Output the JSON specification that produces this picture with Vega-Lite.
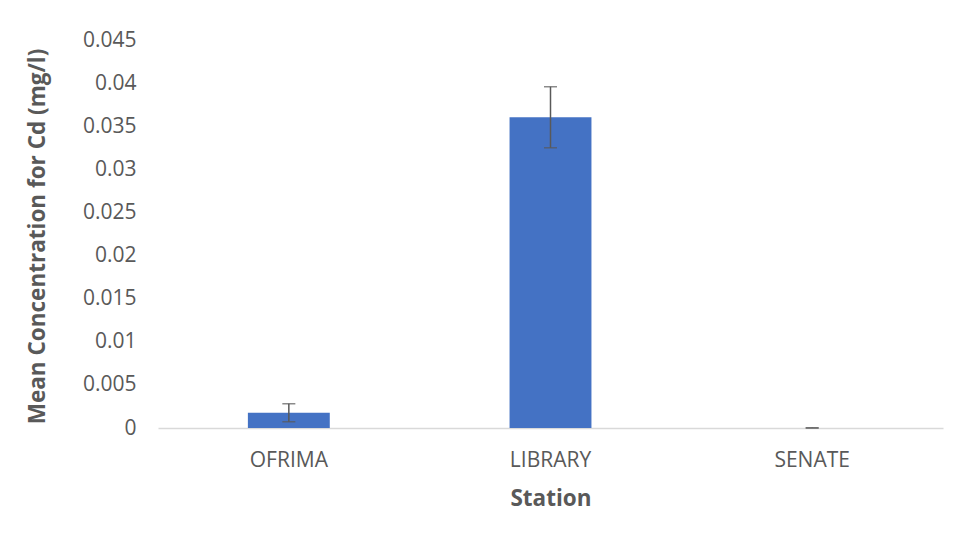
{
  "$schema": "https://vega.github.io/schema/vega-lite/v6.json",
  "width": 785,
  "height": 388,
  "autosize": "none",
  "padding": {"left": 158, "top": 40, "right": 15, "bottom": 112},
  "background": "white",
  "config": {
    "view": {"stroke": null},
    "font": "Open Sans",
    "axis": {"labelFont": "Open Sans", "titleFont": "Open Sans", "labelColor": "#595959", "titleColor": "#595959", "grid": false, "ticks": false}
  },
  "data": {
    "values": [
      {"station": "OFRIMA", "mean": 0.00177, "lo": 0.00073, "hi": 0.00281},
      {"station": "LIBRARY", "mean": 0.03604, "lo": 0.0325, "hi": 0.03958},
      {"station": "SENATE", "mean": 0.0, "lo": 0.0, "hi": 0.00002}
    ]
  },
  "encoding": {
    "x": {
      "field": "station", "type": "nominal", "sort": null,
      "scale": {"paddingInner": 0.687, "paddingOuter": 0.3435},
      "axis": {"title": "Station", "labelAngle": 0, "labelFontSize": 21, "titleFontSize": 22.5, "titleFontWeight": "bold", "domainColor": "#d9d9d9", "domainWidth": 1.5, "labelPadding": 21.5, "titlePadding": 17}
    }
  },
  "layer": [
    {
      "mark": {"type": "bar", "color": "#4472C4"},
      "encoding": {
        "y": {
          "field": "mean", "type": "quantitative",
          "scale": {"domain": [0, 0.045], "nice": false},
          "axis": {"title": "Mean Concentration for Cd (mg/l)", "values": [0, 0.005, 0.01, 0.015, 0.02, 0.025, 0.03, 0.035, 0.04, 0.045], "format": "~g", "domain": false, "labelFontSize": 21, "titleFontSize": 22.5, "titleFontWeight": "bold", "labelPadding": 22, "titleAngle": -90, "titleX": -121, "titleY": 196, "titleAlign": "center", "titleBaseline": "middle"}
        }
      }
    },
    {
      "mark": {"type": "rule", "color": "#595959", "strokeWidth": 1.5},
      "encoding": {
        "y": {"field": "lo", "type": "quantitative"},
        "y2": {"field": "hi"}
      }
    },
    {
      "mark": {"type": "tick", "color": "#595959", "size": 13, "thickness": 1.5},
      "encoding": {"y": {"field": "lo", "type": "quantitative"}}
    },
    {
      "mark": {"type": "tick", "color": "#595959", "size": 13, "thickness": 1.5},
      "encoding": {"y": {"field": "hi", "type": "quantitative"}}
    }
  ]
}
